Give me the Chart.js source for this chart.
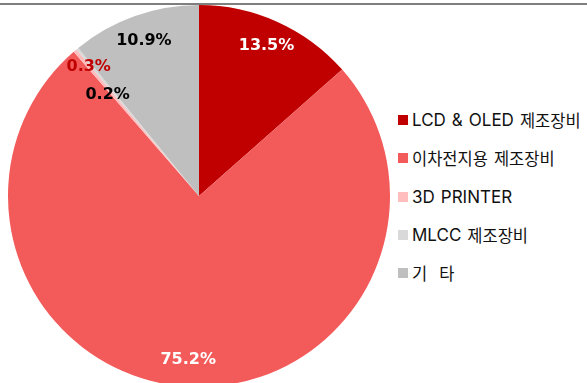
<!DOCTYPE html>
<html>
<head>
<meta charset="utf-8">
<script src="https://cdn.jsdelivr.net/npm/chart.js@4"></script>
<style>
  html, body { margin: 0; padding: 0; background: #fff; overflow: hidden; }
  body { width: 587px; height: 383px; position: relative; }
  .topline { position: absolute; left: 0; top: 3px; width: 587px; height: 2px; background: #7f7f7f; }
  .pie-wrap { position: absolute; left: 8px; top: 5px; width: 382px; height: 382px; }
  #legend { position: absolute; left: 398px; top: 0; color: #111; }
  #legend .item { position: absolute; left: 0; white-space: pre; display: flex; align-items: center; height: 24px; }
  #legend .box { width: 10px; height: 10px; margin-right: 4px; flex: none; }
  #legend .lat { font-family: Inter, "Noto Sans", sans-serif; font-size: 17px; }
  #legend .kor { font-family: "Noto Sans CJK KR", sans-serif; font-size: 16.5px; }
  #legend .gap { display: inline-block; }
</style>
</head>
<body>
<div class="topline"></div>
<div class="pie-wrap"><canvas id="pieChart" width="382" height="382"></canvas></div>
<div id="legend"></div>
<script>
const categories = ["LCD & OLED 제조장비", "이차전지용 제조장비", "3D PRINTER", "MLCC 제조장비", "기  타"];
const shares = [13.5, 75.2, 0.3, 0.2, 10.9];
const sliceColors = ["#C00000", "#F35A5A", "#FFBDBD", "#D9D9D9", "#BFBFBF"];
const labelColors = ["#FFFFFF", "#FFFFFF", "#C00000", "#000000", "#000000"];

// where each percent label sits: fraction of the radius, plus a small nudge
const labelPlacement = [
  { r: 0.86, dx: 0, dy: 0 },
  { r: 0.86, dx: 0, dy: 0 },
  { r: 0.89, dx: 0, dy: 0 },
  { r: 0.71, dx: -5, dy: 3 },
  { r: 0.86, dx: 0, dy: 0 },
];

const percentLabels = {
  id: "percentLabels",
  afterDatasetsDraw(chart) {
    const ctx = chart.ctx;
    const meta = chart.getDatasetMeta(0);
    ctx.save();
    ctx.font = "bold 16px 'DejaVu Sans'";
    ctx.textAlign = "center";
    ctx.textBaseline = "middle";
    meta.data.forEach((arc, i) => {
      const p = arc.getProps(["x", "y", "startAngle", "endAngle", "outerRadius"], true);
      const mid = (p.startAngle + p.endAngle) / 2;
      const place = labelPlacement[i];
      const rr = p.outerRadius * place.r;
      const x = p.x + Math.cos(mid) * rr + place.dx;
      const y = p.y + Math.sin(mid) * rr + place.dy;
      ctx.fillStyle = labelColors[i];
      ctx.fillText(shares[i].toFixed(1) + "%", x, y);
    });
    ctx.restore();
  },
};

new Chart(document.getElementById("pieChart"), {
  type: "pie",
  data: {
    labels: categories,
    datasets: [
      {
        data: shares,
        backgroundColor: sliceColors,
        borderWidth: 0,
      },
    ],
  },
  options: {
    responsive: false,
    animation: false,
    layout: { padding: 0 },
    plugins: {
      legend: { display: false },
      tooltip: { enabled: false },
    },
  },
  plugins: [percentLabels],
});

// legend column to the right of the pie: latin, hangul and spaces set as separate runs
const legendEl = document.getElementById("legend");
const rowCenters = [120, 158, 197, 235, 273];
categories.forEach((name, i) => {
  const item = document.createElement("div");
  item.className = "item";
  item.style.top = (rowCenters[i] - 12) + "px";
  const box = document.createElement("span");
  box.className = "box";
  box.style.background = sliceColors[i];
  item.appendChild(box);
  name.split(/([\uac00-\ud7a3]+|\s+)/).forEach((run) => {
    if (!run) return;
    const s = document.createElement("span");
    if (/^\s+$/.test(run)) {
      s.className = "gap";
      s.style.width = run.length * 6 + "px";
    } else {
      s.className = /[\uac00-\ud7a3]/.test(run) ? "kor" : "lat";
      s.textContent = run;
    }
    item.appendChild(s);
  });
  legendEl.appendChild(item);
});
</script>
</body>
</html>
